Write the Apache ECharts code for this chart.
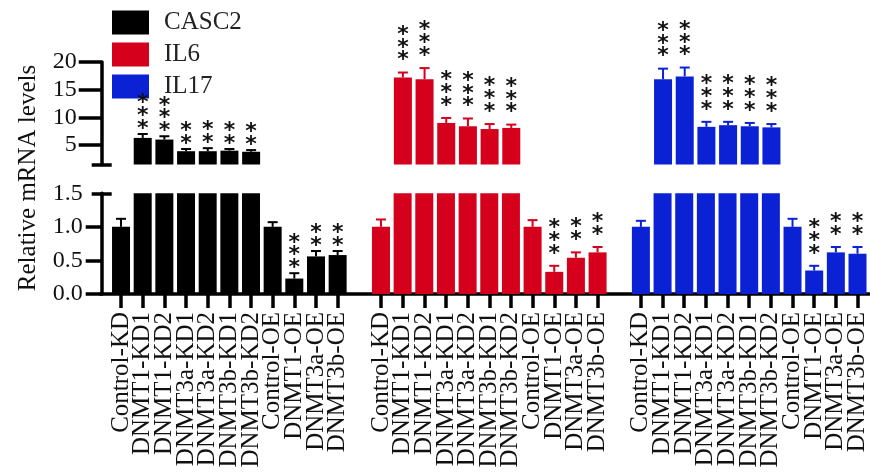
<!DOCTYPE html>
<html>
<head>
<meta charset="utf-8">
<script src="https://cdn.jsdelivr.net/npm/echarts@6/dist/echarts.min.js"></script>
<style>
html,body{margin:0;padding:0;background:#fff;}
#chart{width:870px;height:476px;}
</style>
</head>
<body>
<div id="chart"></div>
<script>
// ---- data ----
const groupLabels = ['Control-KD','DNMT1-KD1','DNMT1-KD2','DNMT3a-KD1','DNMT3a-KD2','DNMT3b-KD1','DNMT3b-KD2','Control-OE','DNMT1-OE','DNMT3a-OE','DNMT3b-OE'];
const genes = ['CASC2','IL6','IL17'];
const casc2Mean  = [1.0, 6.3, 6.0, 3.9, 3.9, 4.0, 3.8, 1.0, 0.23, 0.56, 0.58];
const casc2Err   = [0.12, 0.7, 0.6, 0.4, 0.55, 0.3, 0.3, 0.07, 0.08, 0.08, 0.06];
const casc2Stars = [0, 3, 3, 2, 2, 2, 2, 0, 3, 2, 2];
const il6Mean    = [1.0, 17.2, 16.9, 9.0, 8.4, 7.9, 8.1, 1.0, 0.33, 0.54, 0.62];
const il6Err     = [0.11, 0.9, 2.0, 0.9, 1.4, 0.9, 0.6, 0.10, 0.09, 0.08, 0.08];
const il6Stars   = [0, 3, 3, 3, 3, 3, 3, 0, 3, 2, 2];
const il17Mean   = [1.0, 16.9, 17.4, 8.3, 8.6, 8.4, 8.2, 1.0, 0.35, 0.62, 0.60];
const il17Err    = [0.09, 1.9, 1.6, 0.9, 0.6, 0.6, 0.6, 0.12, 0.07, 0.08, 0.10];
const il17Stars  = [0, 3, 3, 3, 3, 3, 3, 0, 3, 2, 2];
const upperTicks = [5, 10, 15, 20];
const lowerTicks = [0, 0.5, 1.0, 1.5];
const breakLow = 1.5;   // top of lower panel / bottom of upper panel
const upperMax = 20;
const yTitle = 'Relative mRNA levels';

// ---- build ----
const means = [casc2Mean, il6Mean, il17Mean];
const errs = [casc2Err, il6Err, il17Err];
const stars = [casc2Stars, il6Stars, il17Stars];
const colors = ['#000000', '#d4001c', '#0a22d4'];
const starGap = [10, 17, 17];
const starStep = 12.7;
const G = groupLabels.length;
const slots = [];
genes.forEach((g, gi) => { if (gi > 0) slots.push(''); groupLabels.forEach(l => slots.push(l)); });
const NS = slots.length;
function spread(gi, arr) {
  const out = new Array(NS).fill('-');
  arr.forEach((v, i) => { out[gi * (G + 1) + i] = v; });
  return out;
}
const serif = '"Liberation Serif", "Times New Roman", serif';

const series = [];
genes.forEach((g, gi) => {
  const m = means[gi];
  series.push({
    name: g, type: 'bar', xAxisIndex: 0, yAxisIndex: 0,
    barWidth: 18, barGap: '-100%', clip: true,
    itemStyle: { color: colors[gi] },
    data: spread(gi, m.map(v => v > breakLow ? v : '-'))
  });
  series.push({
    name: g, type: 'bar', xAxisIndex: 1, yAxisIndex: 1,
    barWidth: 18, barGap: '-100%', clip: true,
    itemStyle: { color: colors[gi] },
    data: spread(gi, m)
  });
  const mk = (upper) => {
    const items = [];
    m.forEach((v, i) => {
      if ((v > breakLow) === upper) items.push([gi * (G + 1) + i, v, errs[gi][i], stars[gi][i]]);
    });
    return items;
  };
  [true, false].forEach((upper, pi) => {
    series.push({
      name: g + '_err' + pi, type: 'custom',
      xAxisIndex: upper ? 0 : 1, yAxisIndex: upper ? 0 : 1,
      z: 5, clip: false,
      encode: { x: 0, y: 1 },
      data: mk(upper),
      renderItem: function (params, api) {
        const x = api.value(0), v = api.value(1), e = api.value(2), s = api.value(3);
        const pb = api.coord([x, v]);
        const pt = api.coord([x, v + e]);
        const col = colors[gi];
        const ch = [
          { type: 'line', shape: { x1: pb[0], y1: pb[1], x2: pt[0], y2: pt[1] }, style: { stroke: col, lineWidth: 2 } },
          { type: 'line', shape: { x1: pt[0] - 5, y1: pt[1], x2: pt[0] + 5, y2: pt[1] }, style: { stroke: col, lineWidth: 2 } }
        ];
        for (let k = 0; k < s; k++) {
          ch.push({
            type: 'text',
            x: pt[0], y: pt[1] - starGap[gi] - k * starStep + 5,
            style: { text: '*', fill: '#111', font: 'bold 22px "DejaVu Sans"', align: 'center', verticalAlign: 'middle' }
          });
        }
        return { type: 'group', children: ch };
      }
    });
  });
});

const axisBlack = { color: '#000', width: 3.5 };
const yCommon = { type: 'value', position: 'left', offset: 8.5, splitLine: { show: false } };

const option = {
  animation: false,
  backgroundColor: '#fff',
  legend: {
    data: genes, orient: 'vertical', left: 107, top: 5,
    itemWidth: 37, itemHeight: 24, itemGap: 7, icon: 'rect',
    textStyle: { fontFamily: serif, fontSize: 25, color: '#222', padding: [0, 0, 0, 10] }
  },
  graphic: [{
    type: 'text', x: 28, y: 178, rotation: Math.PI / 2,
    style: { text: yTitle, font: '25px ' + serif, fill: '#111', align: 'center', verticalAlign: 'middle' }
  }],
  grid: [
    { left: 110.2, right: 1, top: 62, height: 102.5 },
    { left: 110.2, right: 1, top: 193.3, height: 100.7 },
    { left: 100, right: 1, top: 193.3, height: 100.7 }
  ],
  xAxis: [
    { type: 'category', gridIndex: 0, data: slots, show: false },
    { type: 'category', gridIndex: 1, data: slots,
      axisLine: { show: false },
      axisTick: { show: true, alignWithLabel: true, length: 14, lineStyle: axisBlack,
        interval: (idx) => slots[idx] !== '' },
      axisLabel: { interval: 0, rotate: 90, margin: 18, fontFamily: serif, fontSize: 25, color: '#111' } },
    { type: 'value', gridIndex: 2, min: 0, max: 1,
      axisLine: { show: true, lineStyle: axisBlack }, axisTick: { show: false }, axisLabel: { show: false }, splitLine: { show: false } }
  ],
  yAxis: [
    Object.assign({}, yCommon, { gridIndex: 0, min: breakLow, max: upperMax,
      axisLine: { show: true, lineStyle: axisBlack },
      axisTick: { show: true, length: 23, lineStyle: axisBlack, customValues: upperTicks },
      axisLabel: { margin: 25, fontFamily: serif, fontSize: 24, color: '#111', customValues: upperTicks } }),
    Object.assign({}, yCommon, { gridIndex: 1, min: 0, max: breakLow, interval: 0.5,
      axisLine: { show: true, lineStyle: axisBlack },
      axisTick: { show: true, length: 16, lineStyle: axisBlack, customValues: lowerTicks.filter(t => t < breakLow) },
      axisLabel: { margin: 19, fontFamily: serif, fontSize: 24, color: '#111', customValues: lowerTicks,
        formatter: v => Number(v).toFixed(1) } }),
    Object.assign({}, yCommon, { gridIndex: 0, min: breakLow, max: upperMax, axisLine: { show: false }, axisLabel: { show: false },
      axisTick: { show: true, inside: true, length: 10, lineStyle: axisBlack, customValues: [breakLow] } }),
    Object.assign({}, yCommon, { gridIndex: 0, min: breakLow, max: upperMax, axisLine: { show: false }, axisLabel: { show: false },
      axisTick: { show: true, inside: false, length: 10, lineStyle: axisBlack, customValues: [breakLow] } }),
    Object.assign({}, yCommon, { gridIndex: 1, min: 0, max: breakLow, axisLine: { show: false }, axisLabel: { show: false },
      axisTick: { show: true, inside: true, length: 10, lineStyle: axisBlack, customValues: [breakLow] } }),
    Object.assign({}, yCommon, { gridIndex: 1, min: 0, max: breakLow, axisLine: { show: false }, axisLabel: { show: false },
      axisTick: { show: true, inside: false, length: 10, lineStyle: axisBlack, customValues: [breakLow] } }),
    { type: 'value', gridIndex: 2, show: false, min: 0, max: 1 }
  ],
  series: series
};
const chart = echarts.init(document.getElementById('chart'), null, { renderer: 'canvas' });
chart.setOption(option);
</script>
</body>
</html>
